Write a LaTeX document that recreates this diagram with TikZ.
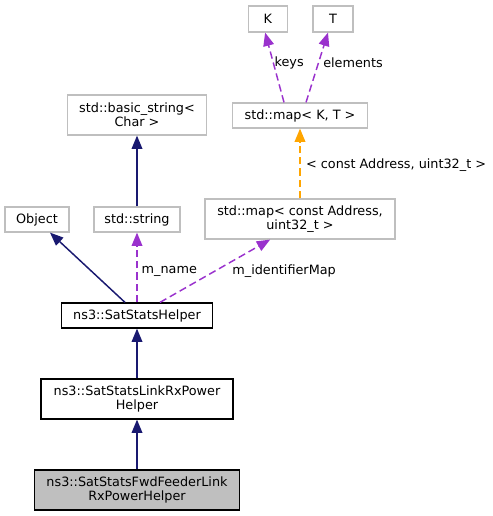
\documentclass[tikz,border=0pt]{standalone}
\usepackage{fontspec}
\setmainfont{DejaVu Sans}
\usepackage{xcolor}
\usetikzlibrary{positioning, arrows.meta}
\definecolor{navyedge}{HTML}{191970}
\definecolor{orchidedge}{HTML}{9A32CD}
\definecolor{orangeedge}{HTML}{FFA500}
\definecolor{boxgray}{HTML}{BFBFBF}
\tikzset{
	x=0.75pt, y=-0.75pt,
	>={Triangle[length=10pt, width=8pt]},
	every node/.style={font=\fontsize{9.6}{10.5}\selectfont, align=center, inner sep=0pt},
	boxsize/.style 2 args={minimum width=#1*0.75pt, minimum height=#2*0.75pt},
	cls/.style={draw=boxgray, fill=white, line width=0.9pt},
	member/.style={draw=black, fill=white, line width=0.9pt},
	focus/.style={draw=black, fill=boxgray, line width=0.9pt},
	inherit/.style={->, draw=navyedge, line width=1.1pt},
	usage/.style={->, draw=orchidedge, line width=1.1pt, dash pattern=on 5.5pt off 3pt},
	templ/.style={->, draw=orangeedge, line width=1.2pt, dash pattern=on 5.5pt off 3pt},
	lbl/.style={anchor=west, inner sep=0pt}
}

\begin{document}
\begin{tikzpicture}
	\useasboundingbox (0,0) rectangle (492,516);
	\node[cls, boxsize={39}{26}]     (K)        at (267.8,19)  {K};
	\node[cls, boxsize={40}{26}]     (T)        at (333,19)    {T};
	\node[cls, boxsize={135}{25}]    (mapKT)    at (300,115.5) {std::map\textless{} K, T \textgreater{}};
	\node[cls, boxsize={190}{40}]    (mapAddr)  at (300,219)   {std::map\textless{} const Address,\\uint32\_t \textgreater{}};
	\node[cls, boxsize={139}{40}]    (basicstr) at (137,115)   {std::basic\_string\textless{}\\Char \textgreater{}};
	\node[cls, boxsize={64}{25}]     (object)   at (37,219.5)  {Object};
	\node[cls, boxsize={86}{25}]     (stdstr)   at (137,219.5) {std::string};
	\node[member, boxsize={151}{25}] (helper)   at (137,315.5) {ns3::SatStatsHelper};
	\node[member, boxsize={192}{40}] (linkrx)   at (137,399)   {ns3::SatStatsLinkRxPower\\Helper};
	\node[focus, boxsize={205}{40}]  (fwd)      at (137,490)   {ns3::SatStatsFwdFeederLink\\RxPowerHelper};
	\draw
	([xshift=-12pt]mapKT.north) edge[usage] node[lbl, pos=0.57, xshift=0.5pt]{keys} ([xshift=-2pt]K.south)
	([xshift=4.5pt]mapKT.north) edge[usage] node[lbl, pos=0.57, xshift=3pt]{elements} ([xshift=-3.75pt]T.south)
	(mapAddr.north) edge[templ] node[lbl, pos=0.47, xshift=4pt]{\textless{} const Address, uint32\_t \textgreater{}} (mapKT.south)
	(stdstr.north) edge[inherit] (basicstr.south)
	([xshift=-9pt]helper.north) edge[inherit] ([xshift=9.75pt]object.south)
	(helper.north) edge[usage] node[lbl, pos=0.45, xshift=3pt]{m\_name} (stdstr.south)
	([xshift=17.2pt]helper.north) edge[usage] node[lbl, pos=0.5, xshift=12.5pt]{m\_identifierMap} ([xshift=-22.4pt]mapAddr.south)
	(linkrx.north) edge[inherit] (helper.south)
	(fwd.north) edge[inherit] (linkrx.south)
	;
\end{tikzpicture}
\end{document}
